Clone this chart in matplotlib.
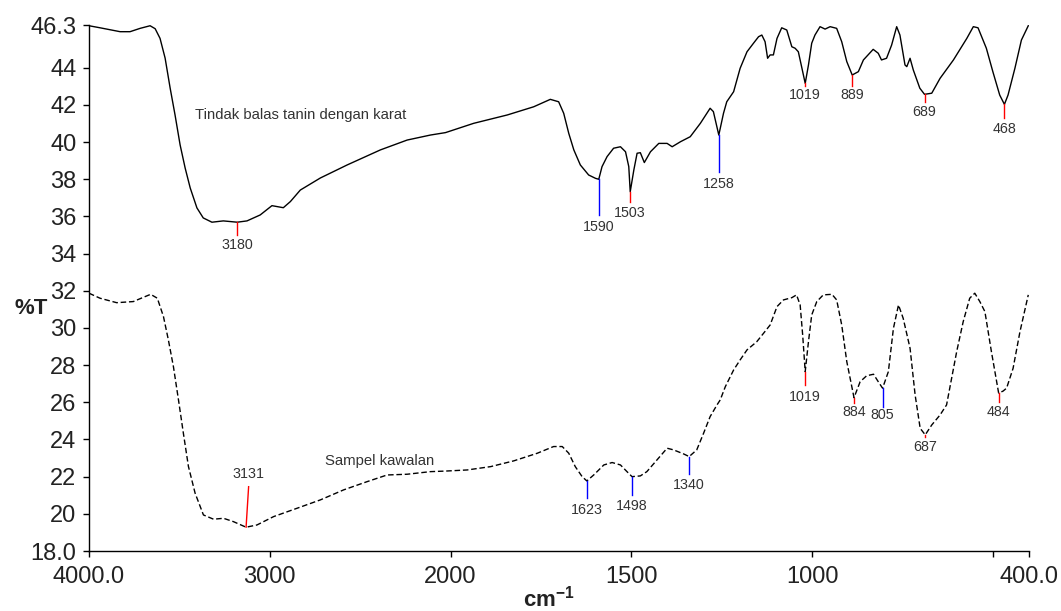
import numpy as np
import matplotlib
matplotlib.use("Agg")
import matplotlib.pyplot as plt

plt.rcParams['font.family'] = ['Liberation Sans', 'DejaVu Sans']
plt.rcParams['mathtext.fontset'] = 'custom'
plt.rcParams['mathtext.rm'] = 'Liberation Sans'
plt.rcParams['mathtext.bf'] = 'Liberation Sans:bold'

# Spectrum 1: tannin reacted with rust (solid line)
top_wn = [4000, 3939, 3828, 3773, 3717, 3662, 3634, 3607, 3579, 3551, 3524, 3496, 3468, 3440,
          3403, 3368, 3320, 3257, 3180, 3126, 3053, 2988, 2925, 2886, 2831, 2720, 2572, 2388,
          2240, 2111, 2028, 1936, 1843, 1770, 1724, 1701, 1687, 1673, 1659, 1641, 1618, 1599,
          1590, 1581, 1567, 1549, 1530, 1516, 1507, 1503, 1493, 1484, 1475, 1464, 1447, 1424,
          1401, 1387, 1364, 1337, 1309, 1282, 1273, 1258, 1245, 1236, 1217, 1208, 1199, 1180,
          1162, 1148, 1139, 1130, 1123, 1116, 1107, 1097, 1084, 1070, 1056, 1047, 1038, 1028,
          1019, 1010, 1001, 992, 978, 964, 950, 932, 918, 904, 889, 872, 858, 831, 817, 808,
          794, 780, 766, 757, 743, 738, 729, 720, 702, 689, 669, 646, 609, 572, 554, 541, 518,
          500, 481, 468, 458, 439, 421, 402]
top_t = [46.26, 46.15, 45.94, 45.94, 46.12, 46.26, 46.10, 45.58, 44.52, 42.90, 41.46, 39.85,
         38.60, 37.53, 36.46, 35.92, 35.69, 35.76, 35.69, 35.76, 36.08, 36.58, 36.47, 36.80,
         37.42, 38.07, 38.77, 39.58, 40.11, 40.38, 40.51, 41.01, 41.46, 41.90, 42.30, 42.17,
         41.55, 40.47, 39.58, 38.77, 38.23, 38.05, 38.00, 38.68, 39.22, 39.67, 39.75, 39.48,
         38.68, 37.33, 38.50, 39.40, 39.43, 38.90, 39.48, 39.93, 39.93, 39.75, 40.02, 40.29,
         41.01, 41.82, 41.64, 40.38, 41.55, 42.17, 42.71, 43.34, 43.97, 44.86, 45.32, 45.67,
         45.76, 45.40, 44.51, 44.69, 44.69, 45.58, 46.15, 46.03, 45.13, 45.05, 44.86, 43.97,
         43.16, 44.15, 45.32, 45.76, 46.21, 46.08, 46.21, 46.12, 45.40, 44.33, 43.61, 43.79,
         44.42, 44.99, 44.78, 44.42, 44.51, 45.22, 46.21, 45.76, 44.15, 44.06, 44.51, 43.88,
         42.90, 42.57, 42.63, 43.43, 44.42, 45.58, 46.21, 46.15, 45.05, 43.79, 42.53, 42.03,
         42.53, 43.97, 45.49, 46.26]

# Spectrum 2: control sample (dashed line)
bot_wn = [4000, 3939, 3847, 3755, 3699, 3659, 3622, 3588, 3561, 3533, 3505, 3478, 3450, 3413,
          3367, 3311, 3256, 3201, 3131, 3071, 2979, 2849, 2720, 2591, 2462, 2351, 2240, 2111,
          2028, 1954, 1889, 1825, 1760, 1715, 1691, 1673, 1655, 1636, 1623, 1604, 1576, 1553,
          1530, 1512, 1498, 1475, 1457, 1429, 1401, 1383, 1355, 1340, 1319, 1300, 1282, 1263,
          1254, 1240, 1217, 1199, 1180, 1153, 1134, 1116, 1097, 1079, 1056, 1043, 1033, 1026,
          1019, 1010, 1001, 987, 969, 945, 932, 918, 904, 884, 867, 849, 830, 817, 805, 789,
          775, 761, 748, 729, 715, 701, 687, 669, 646, 628, 600, 582, 564, 550, 536, 522, 504,
          484, 472, 462, 444, 425, 402]
bot_t = [31.87, 31.60, 31.36, 31.42, 31.65, 31.81, 31.60, 30.61, 29.36, 27.92, 26.13, 24.34,
         22.55, 21.11, 19.94, 19.71, 19.76, 19.58, 19.28, 19.40, 19.85, 20.30, 20.75, 21.29,
         21.73, 22.09, 22.13, 22.27, 22.30, 22.36, 22.54, 22.85, 23.26, 23.62, 23.62, 23.26,
         22.54, 22.00, 21.77, 22.09, 22.63, 22.76, 22.63, 22.27, 22.00, 22.04, 22.27, 22.90,
         23.53, 23.44, 23.22, 23.08, 23.44, 24.34, 25.23, 25.86, 26.13, 26.84, 27.74, 28.28,
         28.82, 29.26, 29.72, 30.16, 31.15, 31.51, 31.63, 31.78, 31.24, 29.62, 27.65, 29.26,
         30.70, 31.42, 31.78, 31.81, 31.51, 30.16, 28.19, 26.25, 27.11, 27.43, 27.51, 27.11,
         26.76, 27.65, 29.98, 31.24, 30.52, 28.91, 26.40, 24.60, 24.25, 24.78, 25.32, 25.86,
         28.73, 30.34, 31.60, 31.87, 31.42, 30.88, 28.73, 26.50, 26.60, 26.76, 27.83, 29.80,
         31.78]

# peak markers: wavenumber, curve value, end of tick, label centre, colour
top_peaks = [3180, 1590, 1503, 1258, 1019, 889, 689, 468]
top_peak_y0 = [35.69, 38.00, 37.33, 40.38, 43.16, 43.61, 42.57, 42.03]
top_peak_y1 = [35.00, 36.08, 36.80, 38.41, 43.00, 43.03, 42.17, 41.28]
top_label_y = [34.47, 35.43, 36.19, 37.75, 42.53, 42.53, 41.64, 40.69]
top_colors = ['red', 'blue', 'red', 'blue', 'red', 'red', 'red', 'red']

bot_peaks = [3131, 1623, 1498, 1340, 1019, 884, 805, 687, 484]
bot_peak_x1 = [3117, 1623, 1498, 1340, 1019, 884, 805, 687, 484]
bot_peak_y0 = [19.28, 21.77, 22.00, 23.08, 27.65, 26.25, 26.76, 24.25, 26.50]
bot_peak_y1 = [21.46, 20.84, 21.02, 22.15, 26.93, 25.95, 25.77, 24.15, 26.00]
bot_label_y = [22.13, 20.21, 20.43, 21.56, 26.31, 25.47, 25.32, 23.62, 25.50]
bot_colors = ['red', 'blue', 'blue', 'blue', 'red', 'red', 'blue', 'red', 'red']

xticks = [4000, 3000, 2000, 1500, 1000, 500, 400]
xtick_labels = ['4000.0', '3000', '2000', '1500', '1000', '', '400.0']
yticks = [18, 20, 22, 24, 26, 28, 30, 32, 34, 36, 38, 40, 42, 44, 46.3]
ytick_labels = ['18.0', '20', '22', '24', '26', '28', '30', '32', '34', '36', '38', '40',
                '42', '44', '46.3']


# FTIR style axis: scale halves above 2000 cm-1
def forward(x):
    x = np.asarray(x, dtype=float)
    return np.where(x > 2000, 2000 + (x - 2000) / 2.0, x)


def inverse(y):
    y = np.asarray(y, dtype=float)
    return np.where(y > 2000, 2000 + (y - 2000) * 2.0, y)


fig = plt.figure(figsize=(10.61, 6.11), dpi=100)
ax = fig.add_axes([89 / 1061, 1 - 551 / 611, 940 / 1061, 526 / 611])
ax.set_xscale('function', functions=(forward, inverse))

ax.plot(top_wn, top_t, color='black', lw=1.0)
ax.plot(bot_wn, bot_t, color='black', lw=1.0, linestyle=(0, (4, 2)))

for wn, y0, y1, yl, c in zip(top_peaks, top_peak_y0, top_peak_y1, top_label_y, top_colors):
    ax.plot([wn, wn], [y0, y1], color=c, lw=1.0)
    ax.text(wn, yl, str(wn), ha='center', va='center', fontsize=10.3, color='#333333')

for wn, x1, y0, y1, yl, c in zip(bot_peaks, bot_peak_x1, bot_peak_y0, bot_peak_y1,
                                 bot_label_y, bot_colors):
    ax.plot([wn, x1], [y0, y1], color=c, lw=1.0)
    ax.text(x1, yl, str(wn), ha='center', va='center', fontsize=10.3, color='#333333')

ax.text(3413, 41.46, 'Tindak balas tanin dengan karat', ha='left', va='center',
        fontsize=10.7, color='#333333')
ax.text(2693, 22.85, 'Sampel kawalan', ha='left', va='center',
        fontsize=10.7, color='#333333')

ax.set_xlim(4000, 400)
ax.set_ylim(18, 46.3)
ax.set_xticks(xticks)
ax.set_xticklabels(xtick_labels)
ax.set_yticks(yticks)
ax.set_yticklabels(ytick_labels)
ax.minorticks_off()
ax.tick_params(axis='both', direction='out', length=4, width=1.0, labelsize=17,
               labelcolor='#222222', pad=5)
ax.tick_params(axis='x', pad=7)

ax.spines['top'].set_visible(False)
ax.spines['right'].set_visible(False)
ax.spines['left'].set_linewidth(1.0)
ax.spines['bottom'].set_linewidth(1.0)

fig.text(31 / 1061, 1 - 308 / 611, '%T', ha='center', va='center', fontsize=16,
         fontweight='bold', color='#222222')
fig.text(549 / 1061, 5 / 611, r'$\mathbf{cm^{-1}}$', ha='center', va='baseline',
         fontsize=16, color='#222222')

fig.savefig('out.png', dpi=100)
